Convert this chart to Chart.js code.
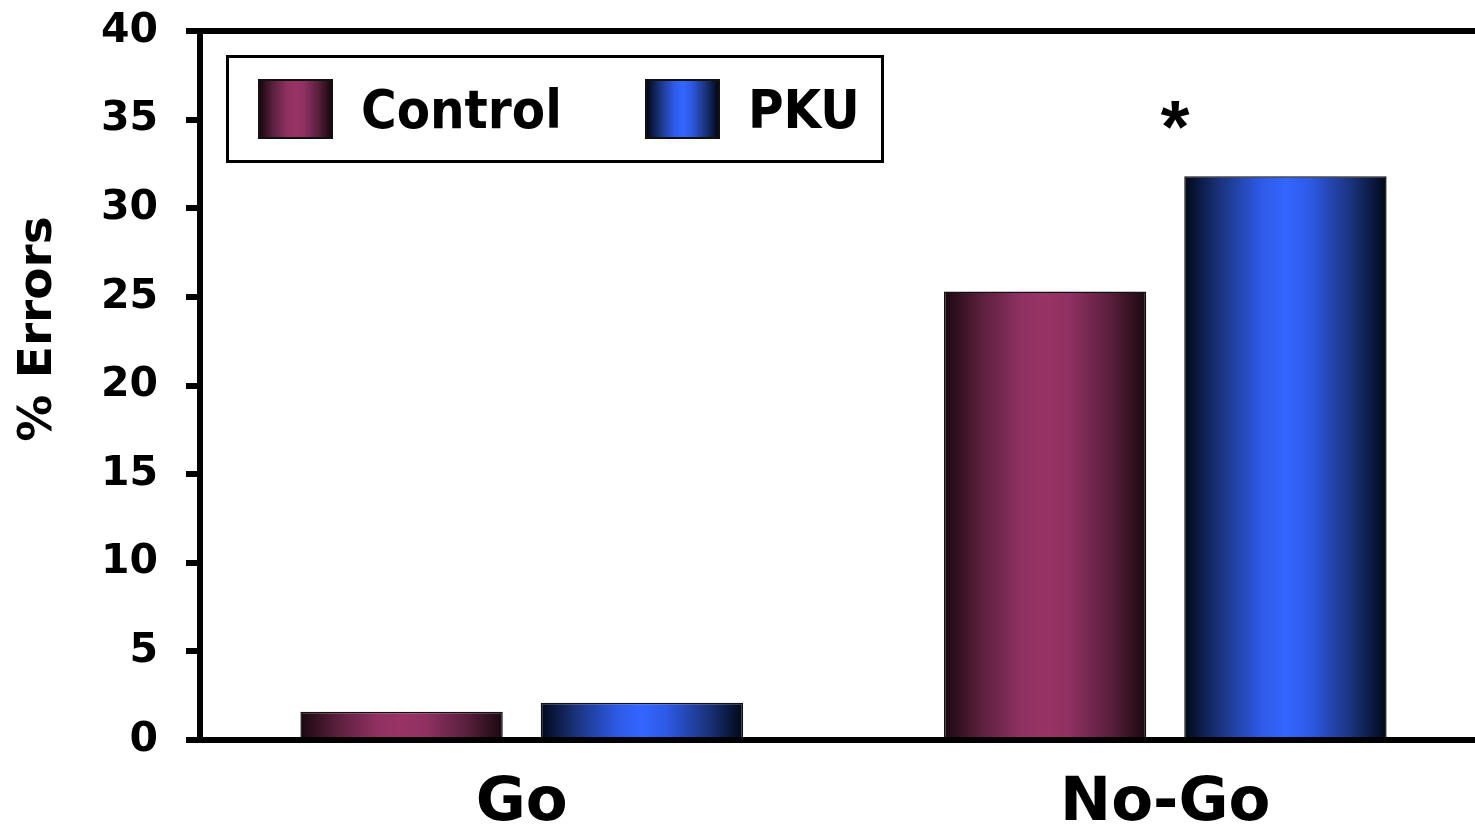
<!DOCTYPE html>
<html>
<head>
<meta charset="utf-8">
<script src="https://cdn.jsdelivr.net/npm/chart.js@4/dist/chart.umd.min.js"></script>
<style>
  html, body { margin: 0; padding: 0; background: #fff; overflow: hidden; }
  #wrap { position: relative; width: 1487px; height: 829px; }
  #legend {
    position: absolute; left: 226px; top: 55px; width: 658px; height: 108px;
    box-sizing: border-box; border: 3px solid #000; background: #fff;
    font-family: 'Liberation Sans Narrow', 'DejaVu Sans Condensed', sans-serif;
    font-weight: bold; font-size: 54px; color: #000;
  }
  .item { position: absolute; top: 20px; height: 62px; display: flex; align-items: center; }
  .sw { width: 75px; height: 60px; box-sizing: border-box; border: 2px solid #111; margin-right: 28px; }
</style>
</head>
<body>
<div id="wrap">
  <canvas id="chart"></canvas>
  <div id="legend">
    <div class="item" style="left:29px"><div class="sw" id="swC"></div><span>Control</span></div>
    <div class="item" style="left:416px"><div class="sw" id="swP"></div><span>PKU</span></div>
  </div>
</div>
<script>
const categories = ['Go', 'No-Go'];
const controlValues = [1.6, 25.3];
const pkuValues = [2.1, 31.8];
const yTicks = [0, 5, 10, 15, 20, 25, 30, 35, 40];

const CAT_PCT = 0.747;
const BAR_PCT = 0.842;

const maroonStops = [[0, '#1a0810'], [0.18, '#5a1f3c'], [0.38, '#8f3162'], [0.5, '#993366'], [0.62, '#8f3162'], [0.82, '#5a1f3c'], [1, '#1a0810']];
const blueStops = [[0, '#010818'], [0.18, '#1b347f'], [0.38, '#2e5ae6'], [0.5, '#3366ff'], [0.62, '#2e5ae6'], [0.82, '#1b347f'], [1, '#010818']];

function css(stops) {
  return 'linear-gradient(to right, ' + stops.map(s => s[1] + ' ' + (s[0] * 100) + '%').join(', ') + ')';
}
document.getElementById('swC').style.background = css(maroonStops);
document.getElementById('swP').style.background = css(blueStops);

// horizontal shading across each bar, placed from the x scale
function barFill(stops) {
  return (ctx) => {
    const chart = ctx.chart;
    const xs = chart.scales.x;
    if (!chart.chartArea || !xs || ctx.type !== 'data') return stops[3][1];
    const cat = xs.width / categories.length;
    const group = cat * CAT_PCT;
    const slot = group / 2;
    const w = slot * BAR_PCT;
    const cx = xs.getPixelForValue(ctx.dataIndex) - group / 2 + slot * (ctx.datasetIndex + 0.5);
    const g = chart.ctx.createLinearGradient(cx - w / 2, 0, cx + w / 2, 0);
    stops.forEach(s => g.addColorStop(s[0], s[1]));
    return g;
  };
}

const extras = {
  id: 'extras',
  afterDraw(chart) {
    const c = chart.ctx;
    c.save();
    // y title
    c.translate(39, 329);
    c.rotate(-Math.PI / 2);
    c.font = 'bold 47px "DejaVu Sans"';
    c.fillStyle = '#000';
    c.textAlign = 'center';
    c.textBaseline = 'middle';
    c.fillText('% Errors', 0, 0);
    c.restore();

    // significance mark over No-Go
    const bar = chart.getDatasetMeta(1).data[1];
    c.save();
    c.font = 'bold 74px "Liberation Sans"';
    c.fillStyle = '#000';
    c.textAlign = 'center';
    c.textBaseline = 'alphabetic';
    c.fillText('*', chart.scales.x.getPixelForValue(1) + 10, bar.y - 24);
    c.restore();
  }
};

new Chart(document.getElementById('chart'), {
  type: 'bar',
  data: {
    labels: categories,
    datasets: [
      { label: 'Control', data: controlValues, backgroundColor: barFill(maroonStops) },
      { label: 'PKU', data: pkuValues, backgroundColor: barFill(blueStops) }
    ]
  },
  options: {
    responsive: true,
    maintainAspectRatio: false,
    animation: false,
    layout: { padding: { top: 31, right: 0, bottom: 0, left: 0 } },
    datasets: {
      bar: {
        categoryPercentage: CAT_PCT,
        barPercentage: BAR_PCT,
        borderColor: '#111',
        borderWidth: 1.5,
        borderSkipped: 'bottom'
      }
    },
    plugins: { legend: { display: false }, tooltip: { enabled: false } },
    scales: {
      x: {
        grid: { display: false, drawTicks: false },
        border: { display: true, color: '#000', width: 6 },
        ticks: {
          color: '#000',
          padding: 28,
          font: { family: 'DejaVu Sans', weight: 'bold', size: 61 }
        },
        afterFit: (s) => { s.height = 89; s.paddingLeft = 0; s.paddingRight = 0; }
      },
      y: {
        min: 0,
        max: 40,
        afterBuildTicks: (s) => { s.ticks = yTicks.map(v => ({ value: v })); },
        grid: {
          color: (ctx) => (ctx.tick && (ctx.tick.value === 0 || ctx.tick.value === 40)) ? '#000' : 'rgba(0,0,0,0)',
          lineWidth: 6,
          drawTicks: true,
          tickLength: 14,
          tickColor: '#000',
          tickWidth: 6
        },
        border: { display: true, color: '#000', width: 6 },
        ticks: {
          color: '#000',
          padding: 28,
          font: { family: 'DejaVu Sans', weight: 'bold', size: 41 }
        },
        afterFit: (s) => { s.width = 200; s.paddingTop = 0; s.paddingBottom = 0; }
      }
    }
  },
  plugins: [extras]
});
</script>
</body>
</html>
